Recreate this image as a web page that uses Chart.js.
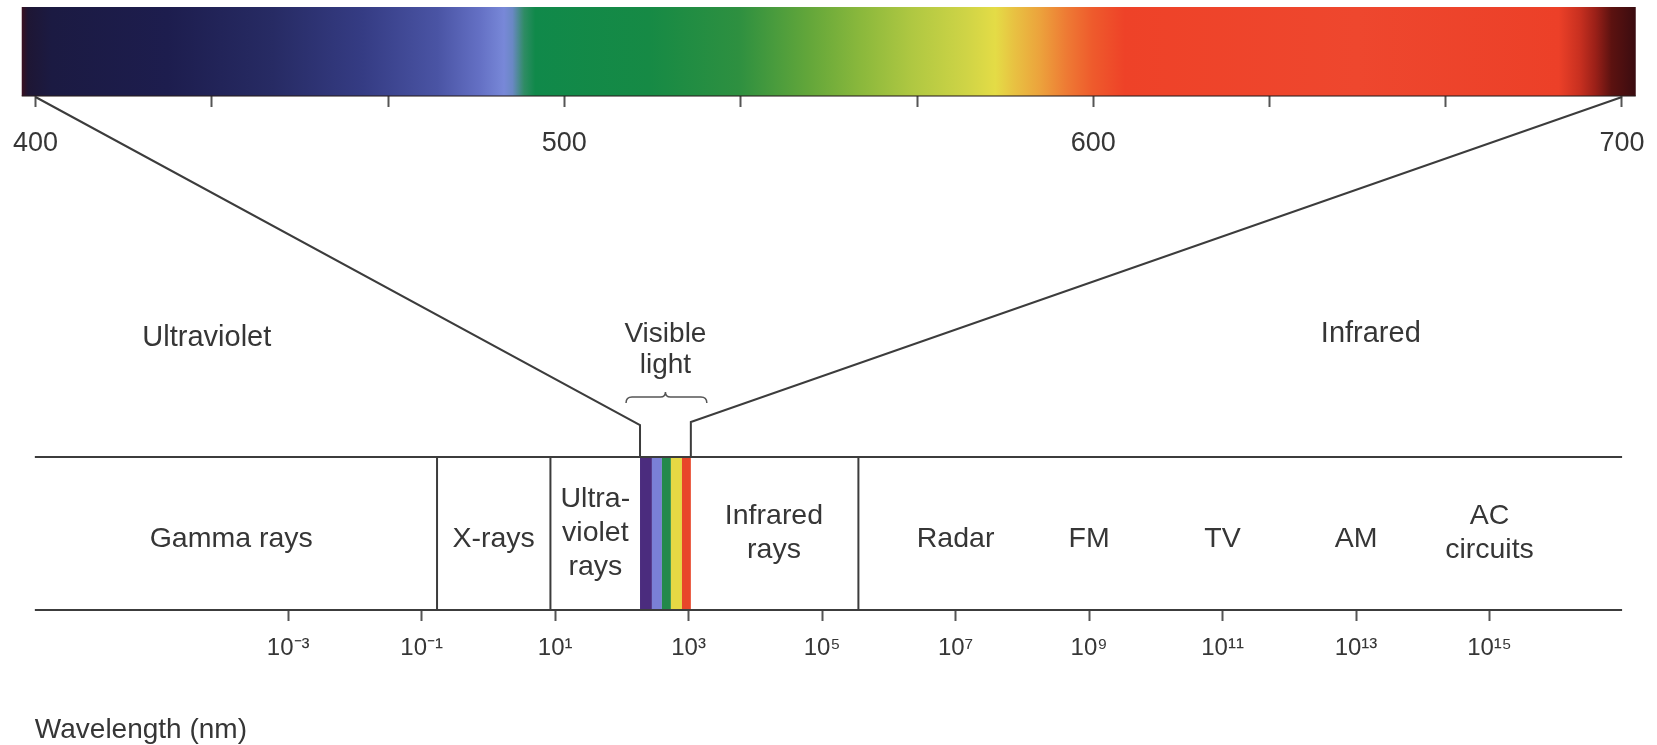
<!DOCTYPE html>
<html>
<head>
<meta charset="utf-8">
<title>Electromagnetic spectrum</title>
<script src="https://cdn.jsdelivr.net/npm/chart.js@4.4.1/dist/chart.umd.min.js"></script>
<style>
	html, body { margin: 0; padding: 0; background: #fff; }
	canvas { display: block; }
</style>
</head>
<body>
<canvas id="spectrum" width="1657" height="745"></canvas>
<script>
// ── Data ────────────────────────────────────────────────

// top axis — visible light, linear in nm
const nmTicks      = [400, 433.3, 466.7, 500, 533.3, 566.7, 600, 633.3, 666.7, 700];
const nmTickLabels = ['400', '', '', '500', '', '', '600', '', '', '700'];
const stripRange   = [397.4, 702.6];   // coloured strip, nm

// strip colours, [nm, colour]
const spectrumStops = [
	[397.4, '#3a1020'], [398.6, '#1e1634'], [403, '#1b1a42'], [425, '#1d1d4e'],
	[445, '#272b64'], [462, '#353c84'], [476, '#4a54a4'], [484, '#6470c4'],
	[488.6, '#7888d8'], [490.2, '#6a88c4'], [492.4, '#2f8c64'], [494.5, '#10894a'],
	[516, '#168a45'], [533, '#2e9040'], [546, '#62a63a'], [556, '#8ab83c'],
	[566, '#b0c842'], [576, '#cfd446'], [581.5, '#e4dc46'], [585, '#e8c242'],
	[590, '#eca23c'], [595, '#ee7a34'], [600, '#ee5a2c'], [606, '#ee4228'],
	[650, '#ee472e'], [688, '#ec4028'], [692, '#c83020'], [695, '#9a2018'],
	[698, '#5c1210'], [702.6, '#3a0c10'],
];

// bottom axis — wavelength in nm, log scale
const logTicks      = [1e-3, 1e-1, 1e1, 1e3, 1e5, 1e7, 1e9, 1e11, 1e13, 1e15];
const logTickLabels = ['10⁻³', '10⁻¹', '10¹', '10³', '10⁵', '10⁷', '10⁹', '10¹¹', '10¹³', '10¹⁵'];

// bands (nm)
const bandRange     = [1.6e-7, 9.7e16];
const bandDividers  = [0.17, 8.5, 3.5e5];
const visibleEdges  = [187, 282, 398, 543, 795, 1080];
const visibleColors = ['#4b2c7e', '#7a80d6', '#23894b', '#e5d844', '#e8462a'];

const bandLabels  = ['Gamma rays', 'X-rays', 'Ultra-\nviolet\nrays', 'Infrared\nrays',
	'Radar', 'FM', 'TV', 'AM', 'AC\ncircuits'];
const bandLabelAt = [1.4e-4, 1.2, 40, 1.9e4, 1e7, 1e9, 1e11, 1e13, 1e15];

// region names above the band, placed on the nm axis
const regionLabels = ['Ultraviolet', 'Infrared'];
const regionAt     = [432.4, 652.5];

// ── Layout (pixels, y scale is 0..745 top-down) ─────────

const STRIP_TOP   = 7;
const STRIP_BOT   = 96;
const BAND_TOP    = 457;
const BAND_BOT    = 610;
const FUNNEL_L_Y  = 425;
const FUNNEL_R_Y  = 422;

const ink   = '#363636';
const line  = '#3c3c3c';
const FONT  = "'Liberation Sans', Arial, Helvetica, sans-serif";

// ── Drawing helpers ─────────────────────────────────────

const seg = ( x0, y0, x1, y1 ) => ( {
	data            : [ { x: x0, y: y0 }, { x: x1, y: y1 } ],
	xAxisID         : 'xLog',
	yAxisID         : 'y',
	showLine        : true,
	borderColor     : line,
	borderWidth     : 2,
	pointRadius     : 0,
	pointHoverRadius: 0,
} );

const datasets = [
	seg( bandRange[0], BAND_TOP, bandRange[1], BAND_TOP ),
	seg( bandRange[0], BAND_BOT, bandRange[1], BAND_BOT ),
	...bandDividers.map( ( v ) => seg( v, BAND_TOP, v, BAND_BOT ) ),
];

const spectrumArt = {
	id: 'spectrumArt',
	beforeDatasetsDraw( chart ) {
		const { ctx } = chart;
		const nm = chart.scales.xNm;
		const lg = chart.scales.xLog;
		const y  = chart.scales.y;

		// coloured strip
		const x0 = nm.getPixelForValue( stripRange[0] );
		const x1 = nm.getPixelForValue( stripRange[1] );
		const grad = ctx.createLinearGradient( x0, 0, x1, 0 );
		spectrumStops.forEach( ( [ v, c ] ) => {
			const t = ( nm.getPixelForValue( v ) - x0 ) / ( x1 - x0 );
			grad.addColorStop( Math.min( 1, Math.max( 0, t ) ), c );
		} );
		const yT = y.getPixelForValue( STRIP_TOP );
		const yB = y.getPixelForValue( STRIP_BOT );
		ctx.save();
		ctx.fillStyle = grad;
		ctx.fillRect( x0, yT, x1 - x0, yB - yT );
		ctx.strokeStyle = 'rgba(40,30,30,0.7)';
		ctx.lineWidth = 1.5;
		ctx.beginPath();
		ctx.moveTo( x0, yB );
		ctx.lineTo( x1, yB );
		ctx.stroke();

		// visible slice in the band
		const bT = y.getPixelForValue( BAND_TOP );
		const bB = y.getPixelForValue( BAND_BOT );
		visibleColors.forEach( ( c, i ) => {
			const a = lg.getPixelForValue( visibleEdges[ i ] );
			const b = lg.getPixelForValue( visibleEdges[ i + 1 ] );
			ctx.fillStyle = c;
			ctx.fillRect( a, bT, b - a, bB - bT );
		} );
		ctx.restore();
	},
	afterDraw( chart ) {
		const { ctx } = chart;
		const nm = chart.scales.xNm;
		const lg = chart.scales.xLog;
		const y  = chart.scales.y;

		const vL = lg.getPixelForValue( visibleEdges[ 0 ] );
		const vR = lg.getPixelForValue( visibleEdges[ visibleEdges.length - 1 ] );
		const vMid = ( vL + vR ) / 2;

		ctx.save();
		// funnel from the strip down to the visible slice
		ctx.strokeStyle = line;
		ctx.lineWidth = 2;
		ctx.lineJoin = 'miter';
		ctx.beginPath();
		ctx.moveTo( nm.getPixelForValue( 400 ), y.getPixelForValue( STRIP_BOT + 1 ) );
		ctx.lineTo( vL, y.getPixelForValue( FUNNEL_L_Y ) );
		ctx.lineTo( vL, y.getPixelForValue( BAND_TOP ) );
		ctx.moveTo( nm.getPixelForValue( 700 ), y.getPixelForValue( STRIP_BOT + 1 ) );
		ctx.lineTo( vR, y.getPixelForValue( FUNNEL_R_Y ) );
		ctx.lineTo( vR, y.getPixelForValue( BAND_TOP ) );
		ctx.stroke();

		// brace under "Visible light"
		const bl = vL - 14, br = vR + 16, by = 397;
		ctx.strokeStyle = '#555';
		ctx.lineWidth = 1.5;
		ctx.beginPath();
		ctx.moveTo( bl, by + 6 );
		ctx.quadraticCurveTo( bl, by, bl + 6, by );
		ctx.lineTo( vMid - 5, by );
		ctx.quadraticCurveTo( vMid, by, vMid, by - 5 );
		ctx.quadraticCurveTo( vMid, by, vMid + 5, by );
		ctx.lineTo( br - 6, by );
		ctx.quadraticCurveTo( br, by, br, by + 6 );
		ctx.stroke();

		// texts
		ctx.fillStyle = ink;
		ctx.textAlign = 'center';
		ctx.textBaseline = 'alphabetic';

		ctx.font = `28px ${ FONT }`;
		ctx.fillText( 'Visible', vMid, 342 );
		ctx.fillText( 'light', vMid, 373 );

		ctx.font = `29px ${ FONT }`;
		ctx.fillText( regionLabels[ 0 ], nm.getPixelForValue( regionAt[ 0 ] ), 346 );
		ctx.fillText( regionLabels[ 1 ], nm.getPixelForValue( regionAt[ 1 ] ), 342 );

		ctx.font = `28.5px ${ FONT }`;
		const lh = 34;
		bandLabels.forEach( ( txt, i ) => {
			const lines = txt.split( '\n' );
			const x = lg.getPixelForValue( bandLabelAt[ i ] );
			const mid = lines.length > 1 ? 531 : 537;
			lines.forEach( ( s, k ) => {
				ctx.fillText( s, x, mid + 10 + ( k - ( lines.length - 1 ) / 2 ) * lh );
			} );
		} );

		ctx.font = `28px ${ FONT }`;
		ctx.textAlign = 'left';
		ctx.fillText( 'Wavelength (nm)', lg.getPixelForValue( bandRange[ 0 ] ), 738 );
		ctx.restore();
	},
};

const noSidePadding = ( s ) => { s.paddingLeft = 0; s.paddingRight = 0; };

new Chart( document.getElementById( 'spectrum' ), {
	type: 'scatter',
	data: { datasets },
	options: {
		responsive : false,
		animation  : false,
		events     : [],
		layout     : { padding: 0 },
		plugins: {
			legend  : { display: false },
			tooltip : { enabled: false },
		},
		scales: {
			y: {
				type    : 'linear',
				min     : 0,
				max     : 745,
				reverse : true,
				display : false,
			},
			xNm: {
				type     : 'linear',
				axis     : 'x',
				position : { y: STRIP_BOT },
				min      : 393.29,
				max      : 706.62,
				bounds   : 'data',
				border   : { display: false },
				grid: {
					drawOnChartArea : false,
					tickLength      : 11,
					tickColor       : '#555',
					tickWidth       : 2,
				},
				ticks: {
					autoSkip    : false,
					maxRotation : 0,
					padding     : 20,
					color       : ink,
					font        : { family: FONT, size: 27 },
					callback    : ( v, i ) => nmTickLabels[ i ],
				},
				afterBuildTicks : ( s ) => { s.ticks = nmTicks.map( ( v ) => ( { value: v } ) ); },
				afterFit        : noSidePadding,
			},
			xLog: {
				type     : 'logarithmic',
				axis     : 'x',
				position : { y: BAND_BOT },
				min      : Math.pow( 10, -7.318 ),
				max      : Math.pow( 10, 17.51 ),
				bounds   : 'data',
				border   : { display: false },
				grid: {
					drawOnChartArea : false,
					tickLength      : 11,
					tickColor       : '#555',
					tickWidth       : 2,
				},
				ticks: {
					autoSkip    : false,
					maxRotation : 0,
					padding     : 13,
					color       : ink,
					font        : { family: FONT, size: 24 },
					callback    : ( v, i ) => logTickLabels[ i ],
				},
				afterBuildTicks : ( s ) => { s.ticks = logTicks.map( ( v ) => ( { value: v } ) ); },
				afterFit        : noSidePadding,
			},
		},
	},
	plugins: [ spectrumArt ],
} );
</script>
</body>
</html>
